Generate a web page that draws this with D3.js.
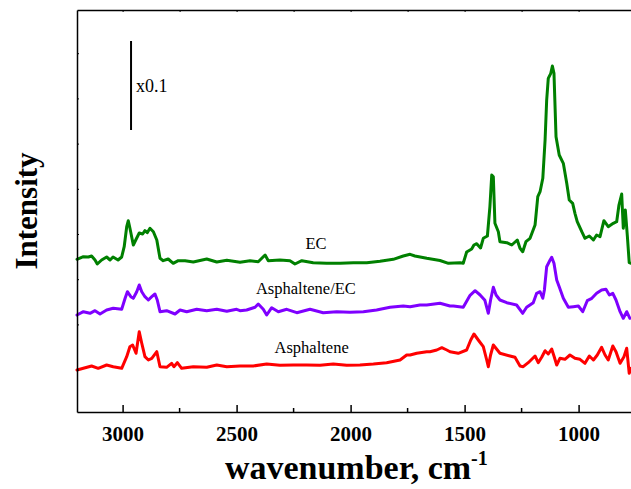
<!DOCTYPE html>
<html>
<head>
<meta charset="utf-8">
<script src="https://cdn.jsdelivr.net/npm/d3@7"></script>
<style>
  html, body { margin: 0; padding: 0; background: #fff; }
  svg { display: block; }
</style>
</head>
<body>
<svg id="chart" width="631" height="489"></svg>
<script>
// FTIR spectra: [wavenumber (cm-1), intensity (a.u., offset for stacking)]
const ecSpectrum = [
  [3200,1.527],[3172,1.553],[3150,1.55],[3136,1.56],[3121,1.52],[3111,1.48],[3092,1.52],[3070,1.55],
  [3055,1.52],[3042,1.55],[3020,1.52],[3004,1.55],[2993,1.653],[2982,1.853],[2975,1.913],[2968,1.84],
  [2953,1.67],[2938,1.74],[2927,1.79],[2912,1.78],[2902,1.813],[2892,1.793],[2880,1.837],[2865,1.803],
  [2850,1.72],[2836,1.537],[2822,1.513],[2800,1.53],[2778,1.487],[2756,1.513],[2726,1.513],[2690,1.50],
  [2631,1.53],[2587,1.50],[2543,1.517],[2485,1.497],[2441,1.513],[2405,1.503],[2375,1.57],[2361,1.513],
  [2310,1.52],[2266,1.513],[2244,1.48],[2214,1.513],[2164,1.493],[2105,1.487],[2046,1.487],[1988,1.493],
  [1929,1.493],[1871,1.507],[1813,1.527],[1769,1.56],[1739,1.577],[1718,1.56],[1666,1.537],[1608,1.515],
  [1571,1.487],[1520,1.493],[1506,1.487],[1491,1.60],[1469,1.63],[1459,1.67],[1447,1.683],[1430,1.64],
  [1418,1.737],[1400,1.76],[1389,2.053],[1381,2.37],[1374,2.353],[1367,1.887],[1352,1.803],[1345,1.703],
  [1315,1.693],[1293,1.67],[1269,1.72],[1257,1.637],[1245,1.603],[1231,1.703],[1213,1.737],[1191,1.87],
  [1179,2.153],[1169,2.203],[1157,2.337],[1147,2.72],[1140,3.12],[1133,3.337],[1122,3.387],[1115,3.46],
  [1108,3.387],[1099,2.753],[1085,2.57],[1067,2.487],[1052,2.287],[1041,2.12],[1026,2.087],[1016,1.987],
  [1006,1.903],[986,1.803],[972,1.737],[953,1.76],[935,1.72],[921,1.77],[906,1.753],[889,1.913],
  [870,1.853],[848,1.887],[833,1.903],[823,2.07],[811,2.18],[804,1.837],[795,2.02],[786,1.753],
  [778,1.493],[770,1.487]
];

const blendSpectrum = [
  [3200,0.97],[3172,1.003],[3143,0.987],[3121,1.013],[3099,0.98],[3070,1.02],[3041,1.037],[3004,1.027],
  [2989,1.137],[2979,1.203],[2964,1.153],[2953,1.137],[2938,1.203],[2927,1.27],[2916,1.203],[2902,1.153],
  [2887,1.12],[2872,1.153],[2858,1.18],[2848,1.12],[2836,1.003],[2807,1.013],[2770,0.98],[2748,1.02],
  [2719,1.003],[2675,1.027],[2631,1.013],[2587,1.027],[2543,1.007],[2500,1.027],[2485,1.013],[2456,1.02],
  [2419,1.047],[2405,1.08],[2383,1.027],[2368,0.97],[2346,1.043],[2317,1.003],[2280,1.027],[2236,0.993],
  [2178,1.027],[2120,0.993],[2061,1.003],[2003,0.997],[1944,1.003],[1886,1.02],[1827,1.047],[1769,1.06],
  [1739,1.053],[1696,1.07],[1666,1.07],[1608,1.087],[1564,1.06],[1549,1.06],[1506,1.047],[1476,1.167],
  [1454,1.213],[1432,1.17],[1411,1.117],[1396,0.987],[1386,1.12],[1374,1.247],[1362,1.17],[1345,1.12],
  [1315,1.093],[1272,1.07],[1245,0.987],[1228,1.047],[1199,1.093],[1184,1.187],[1169,1.203],[1157,1.137],
  [1150,1.22],[1140,1.453],[1125,1.52],[1118,1.547],[1108,1.487],[1096,1.32],[1085,1.253],[1067,1.137],
  [1045,1.047],[1023,1.053],[1001,1.06],[982,1.003],[962,1.113],[942,1.137],[921,1.187],[899,1.22],
  [880,1.227],[865,1.17],[850,1.187],[836,1.12],[818,1.003],[804,0.937],[789,1.003],[775,0.937]
];

const asphalteneSpectrum = [
  [3200,0.42],[3172,0.437],[3136,0.46],[3107,0.437],[3070,0.47],[3041,0.453],[3004,0.437],[2982,0.553],
  [2968,0.653],[2956,0.67],[2941,0.587],[2927,0.803],[2916,0.687],[2902,0.553],[2887,0.52],[2872,0.537],
  [2850,0.603],[2836,0.453],[2807,0.447],[2785,0.487],[2775,0.453],[2760,0.493],[2741,0.437],[2690,0.453],
  [2631,0.447],[2587,0.47],[2543,0.453],[2485,0.46],[2427,0.46],[2368,0.48],[2310,0.467],[2251,0.47],
  [2193,0.47],[2134,0.467],[2076,0.48],[2017,0.467],[1959,0.47],[1900,0.48],[1842,0.493],[1783,0.52],
  [1754,0.57],[1739,0.57],[1710,0.587],[1666,0.603],[1652,0.603],[1622,0.62],[1600,0.643],[1578,0.62],
  [1564,0.603],[1528,0.587],[1491,0.62],[1473,0.72],[1459,0.78],[1440,0.72],[1418,0.653],[1403,0.52],
  [1396,0.453],[1386,0.57],[1374,0.67],[1359,0.627],[1345,0.587],[1301,0.56],[1279,0.547],[1257,0.46],
  [1243,0.453],[1221,0.493],[1191,0.56],[1177,0.493],[1162,0.547],[1147,0.613],[1133,0.58],[1118,0.63],
  [1108,0.56],[1096,0.47],[1082,0.537],[1060,0.527],[1038,0.57],[1016,0.537],[994,0.527],[972,0.487],
  [953,0.56],[935,0.52],[918,0.57],[899,0.647],[884,0.57],[870,0.52],[850,0.66],[836,0.603],
  [818,0.487],[801,0.553],[789,0.637],[778,0.387],[770,0.437]
];

const seriesNames = ["EC", "Asphaltene/EC", "Asphaltene"];
const seriesColors = ["#008000", "#7f00ff", "#ff0000"];
const seriesData = [ecSpectrum, blendSpectrum, asphalteneSpectrum];

// Tick values
const xMajorTicks = [3000, 2500, 2000, 1500, 1000];
const xMinorTicks = [2750, 2250, 1750, 1250];
const yTicks = [0.424, 0.876, 1.328, 1.78, 2.232, 2.684, 3.136, 3.588];

// Series labels: [wavenumber, intensity] anchor of each label
const labelAnchors = [[2152, 1.63], [2196, 1.18], [2171, 0.593]];

// Scale bar for the x0.1 note: wavenumber, intensity from / to
const scaleBar = { w: 2963, from: 2.82, to: 3.71 };

const svg = d3.select("#chart");
const margin = { left: 77, top: 10, bottom: 412 };
const plotRight = 635.6;

const x = d3.scaleLinear().domain([3200, 750]).range([margin.left, plotRight]);
const y = d3.scaleLinear().domain([0, 4.02]).range([margin.bottom, margin.top]);

const serif = "'Liberation Serif', 'Times New Roman', serif";

// Spectra
const line = d3.line().x(d => x(d[0])).y(d => y(d[1])).curve(d3.curveLinear);
const plot = svg.append("g");
seriesData.forEach((data, i) => {
  plot.append("path")
    .datum(data)
    .attr("fill", "none")
    .attr("stroke", seriesColors[i])
    .attr("stroke-width", 3)
    .attr("stroke-linejoin", "round")
    .attr("stroke-linecap", "round")
    .attr("d", line);
});

// Series labels
seriesNames.forEach((name, i) => {
  svg.append("text")
    .attr("x", x(labelAnchors[i][0]))
    .attr("y", y(labelAnchors[i][1]))
    .attr("text-anchor", "middle")
    .attr("font-family", serif)
    .attr("font-size", 16.5)
    .attr("fill", "#000")
    .text(name);
});

// Scale bar
svg.append("line")
  .attr("x1", x(scaleBar.w)).attr("x2", x(scaleBar.w))
  .attr("y1", y(scaleBar.from)).attr("y2", y(scaleBar.to))
  .attr("stroke", "#000").attr("stroke-width", 2);
svg.append("text")
  .attr("x", x(scaleBar.w) + 5)
  .attr("y", (y(scaleBar.from) + y(scaleBar.to)) / 2 + 6)
  .attr("font-family", serif)
  .attr("font-size", 18)
  .attr("fill", "#000")
  .text("x0.1");

// Axes
const bottomAxis = d3.axisBottom(x).tickValues(xMajorTicks).tickSizeInner(-7).tickSizeOuter(0)
  .tickPadding(14).tickFormat(d3.format("d"));
const gx = svg.append("g").attr("transform", `translate(0,${margin.bottom})`).call(bottomAxis);
gx.select(".domain").attr("stroke-width", 1.5);
gx.selectAll(".tick line").attr("stroke-width", 1.5);
gx.selectAll(".tick text")
  .attr("font-family", serif).attr("font-weight", "bold").attr("font-size", 21).attr("fill", "#000");
gx.selectAll(".minor").data(xMinorTicks).enter().append("line")
  .attr("x1", d => x(d)).attr("x2", d => x(d)).attr("y1", 0).attr("y2", -4)
  .attr("stroke", "#000").attr("stroke-width", 1.5);

const topAxis = d3.axisTop(x).tickValues(xMajorTicks.concat(xMinorTicks)).tickSizeInner(-2).tickSizeOuter(0).tickFormat("");
const gt = svg.append("g").attr("transform", `translate(0,${margin.top})`).call(topAxis);
gt.select(".domain").attr("stroke-width", 1.5);

const leftAxis = d3.axisLeft(y).tickValues(yTicks).tickSizeInner(-2).tickSizeOuter(0).tickFormat("");
const gy = svg.append("g").attr("transform", `translate(${margin.left},0)`).call(leftAxis);
gy.select(".domain").attr("stroke-width", 1.5);

// Axis titles
const xTitle = svg.append("text")
  .attr("x", (margin.left + plotRight) / 2)
  .attr("y", 479)
  .attr("text-anchor", "middle")
  .attr("font-family", serif)
  .attr("font-weight", "bold")
  .attr("font-size", 34)
  .attr("fill", "#000");
xTitle.append("tspan").text("wavenumber, cm");
xTitle.append("tspan").attr("dy", -14).attr("font-size", 20).text("-1");

svg.append("text")
  .attr("transform", `translate(37,${(margin.top + margin.bottom) / 2}) rotate(-90)`)
  .attr("text-anchor", "middle")
  .attr("font-family", serif)
  .attr("font-weight", "bold")
  .attr("font-size", 31)
  .attr("fill", "#000")
  .text("Intensity");
</script>
</body>
</html>
